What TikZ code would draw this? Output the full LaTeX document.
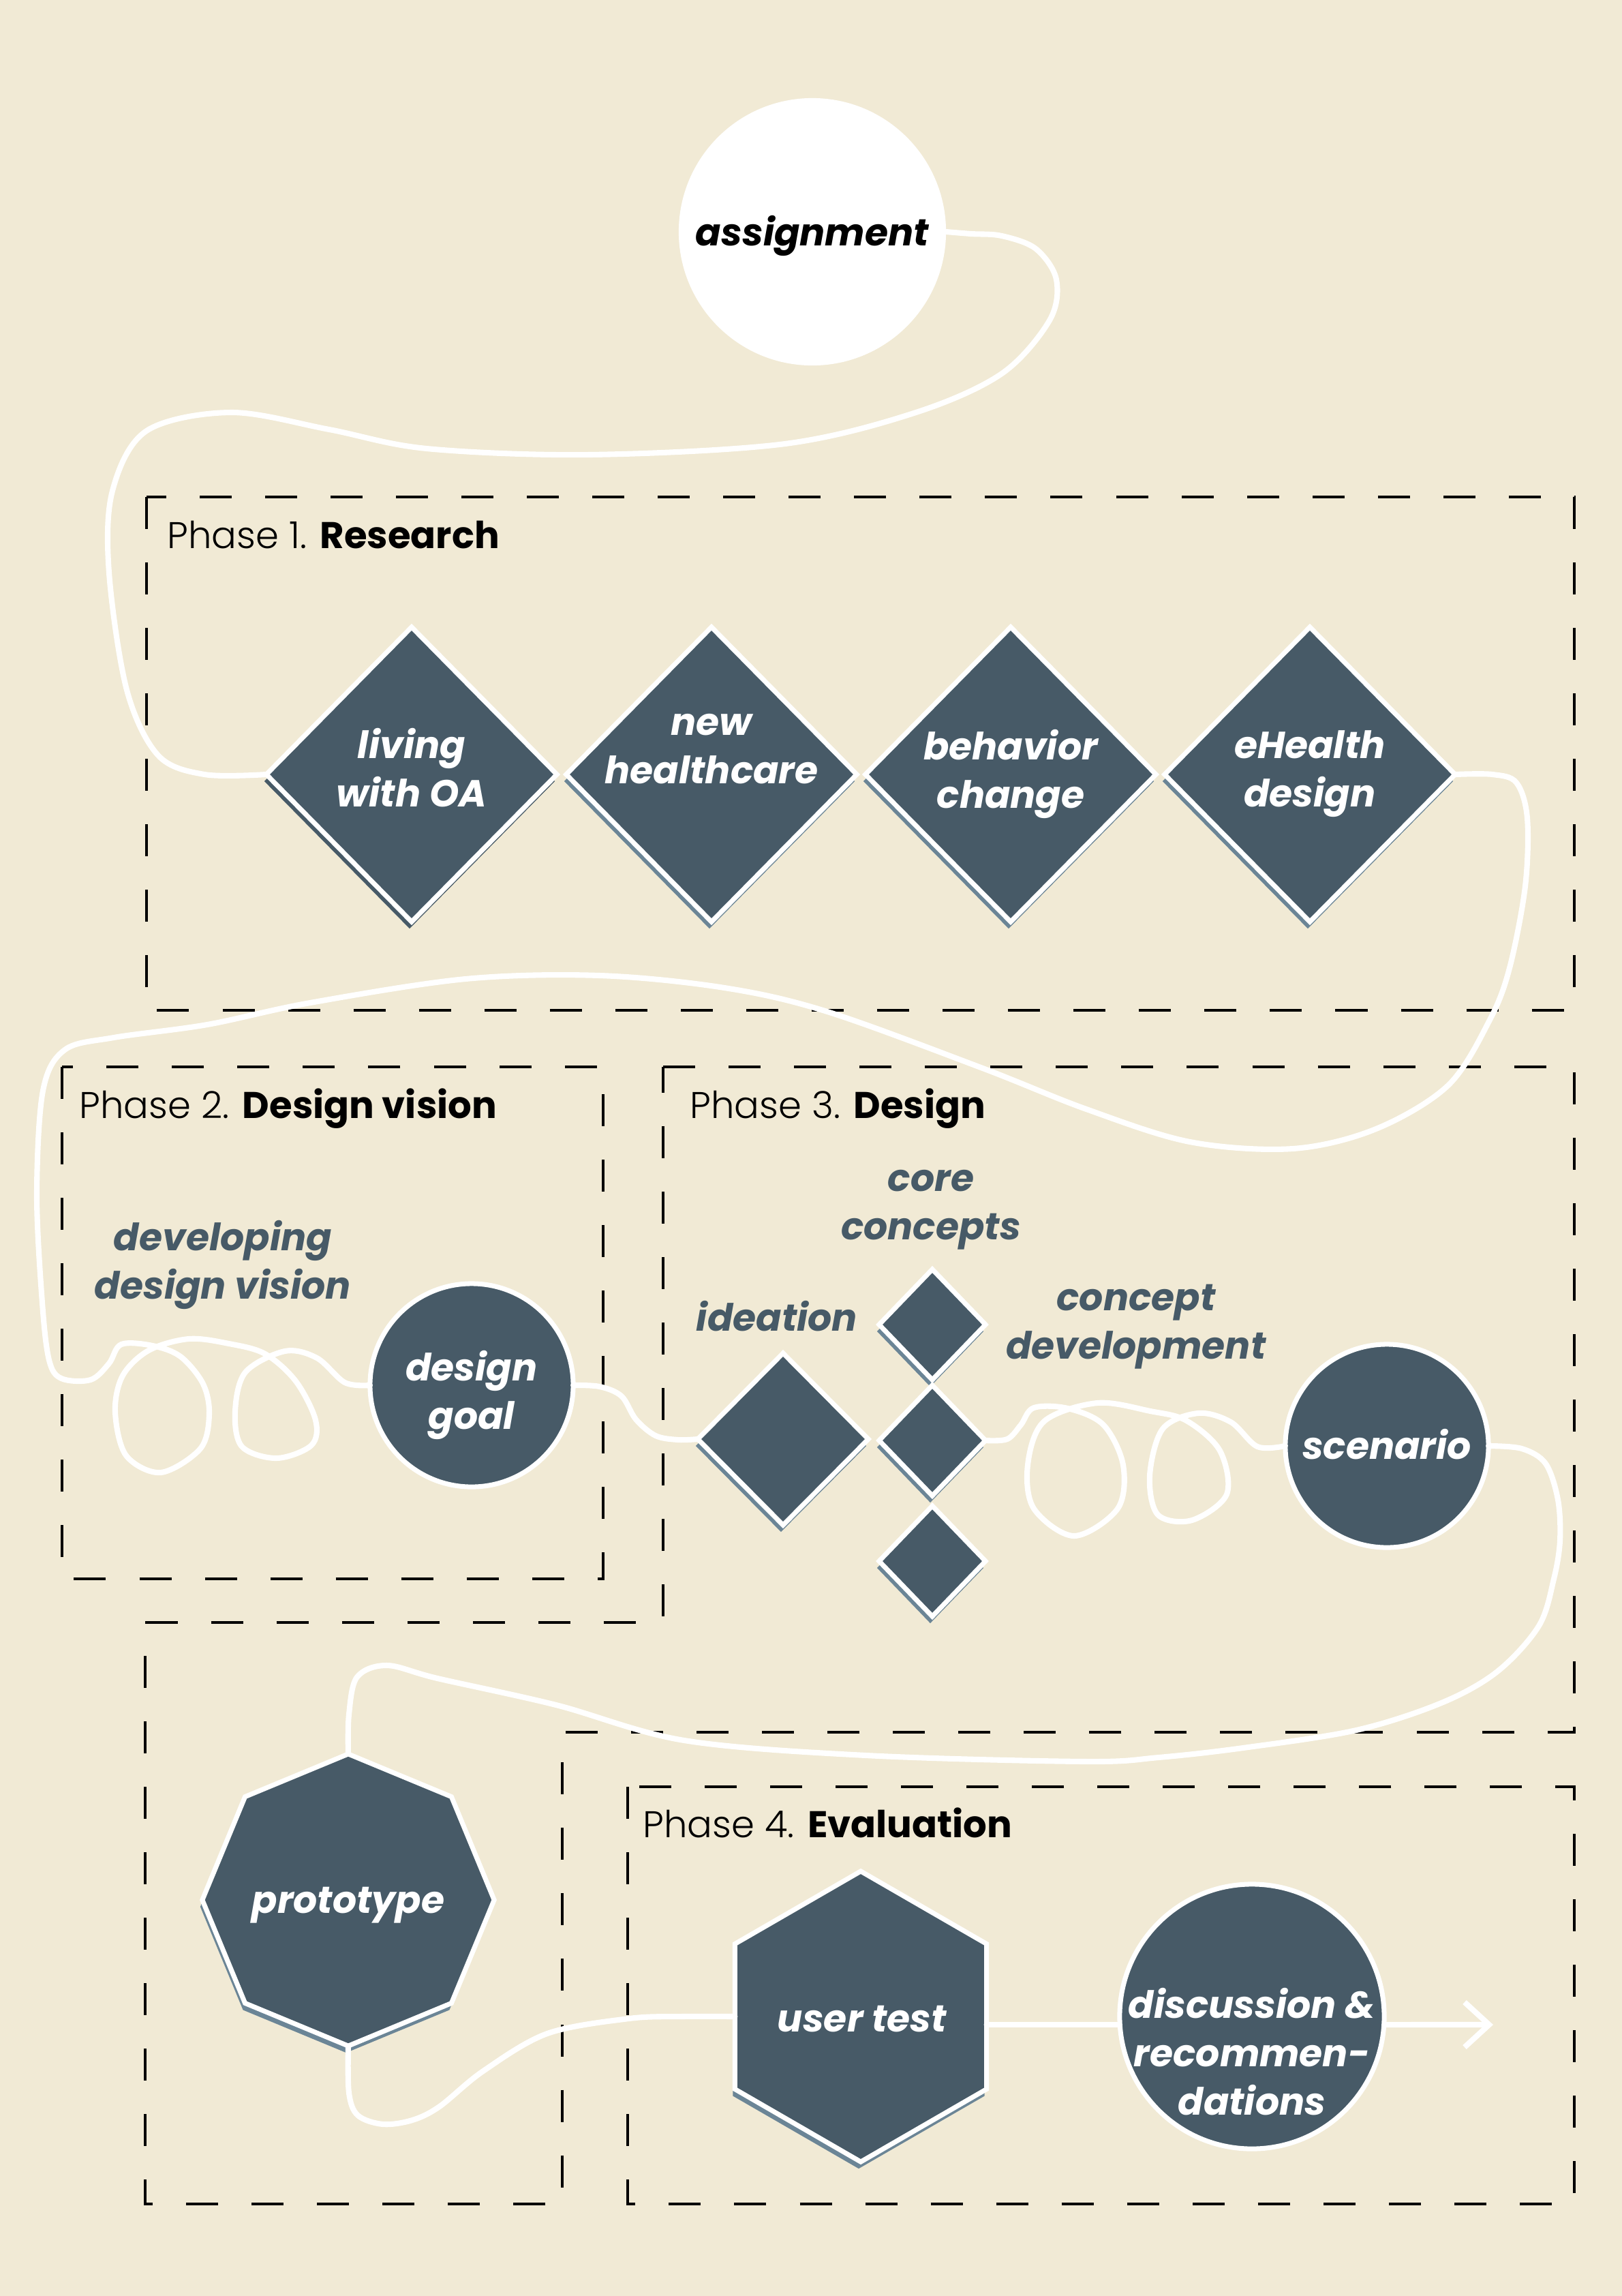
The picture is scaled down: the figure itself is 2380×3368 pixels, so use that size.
\documentclass[tikz,border=0pt]{standalone}
\usepackage{fontspec}
\setmainfont{Poppins}
\IfFontExistsTF{Poppins Light}{\newfontfamily\plight{Poppins Light}}{\newfontfamily\plight{Poppins}}
\usetikzlibrary{shapes.geometric,shadows,arrows.meta}
\definecolor{bg}{HTML}{F1EAD5}
\definecolor{slate}{HTML}{475A67}
\definecolor{shade}{HTML}{6B8596}
\begin{document}
\begin{tikzpicture}[x=0.01cm,y=-0.01cm,
  phase/.style={draw=black,line width=1.15pt,dash pattern=on 0.47cm off 0.49cm},
  conn/.style={draw=white,line width=2.3pt,line cap=round,line join=round},
  shp/.style={fill=slate,draw=white,line width=2pt,inner sep=0pt,outer sep=0pt},
  shd/.style={drop shadow={shadow xshift=-0.03cm,shadow yshift=-0.10cm,fill=#1,opacity=1}},
  shd/.default=shade,
  wtxt/.style={text=white,font=\fontsize{15.7}{20.2}\selectfont\bfseries\itshape,align=center,inner sep=0pt},
  dtxt/.style={text=slate,font=\fontsize{15.7}{20.2}\selectfont\bfseries\itshape,align=center,inner sep=0pt},
  plbl/.style={anchor=base west,inner sep=0pt,font=\fontsize{15.5}{19}\selectfont}
]
\fill[bg] (0,0) rectangle (2380,3368);
\useasboundingbox (0,0) rectangle (2380,3368);

% phase frames
\draw[phase] (215,729) rectangle (2310,1482);
\draw[phase] (91,1565) rectangle (885,2316);
\draw[phase] (973,1565) -- (2310,1565) -- (2310,2541) -- (825,2541) -- (825,3233) -- (213,3233) -- (213,2380) -- (973,2380) -- cycle;
\draw[phase] (921,2621) rectangle (2310,3233);

\node[plbl] (p1) at (245,804) {{\plight Phase 1.} \textbf{Research}};
\node[plbl] (p2) at (116,1640) {{\plight Phase 2.} \textbf{Design vision}};
\node[plbl] (p3) at (1012,1640) {{\plight Phase 3.} \textbf{Design}};
\node[plbl] (p4) at (943,2695) {{\plight Phase 4.} \textbf{Evaluation}};

% shapes
\node[shp,circle,fill=white,draw=none,minimum size=3.92cm] (asg) at (1192,340) {};
\node[wtxt,text=black] (asgt) at (1192,346) {assignment};

\node[shp,diamond,minimum width=4.26cm,minimum height=4.32cm,shd=slate] (d1) at (604,1136) {};
\node[shp,diamond,minimum width=4.26cm,minimum height=4.32cm,shd] (d2) at (1044,1136) {};
\node[shp,diamond,minimum width=4.26cm,minimum height=4.32cm,shd] (d3) at (1483,1136) {};
\node[shp,diamond,minimum width=4.26cm,minimum height=4.32cm,shd] (d4) at (1922,1136) {};
\node[wtxt] (d1t) at (604,1126) {living\\with OA};
\node[wtxt] (d2t) at (1044,1099) {new\\healthcare};
\node[wtxt] (d3t) at (1483,1135) {behavior\\change};
\node[wtxt] (d4t) at (1922,1135) {eHealth\\design};

\node[dtxt] (dv) at (327,1855) {developing\\design vision};
\node[shp,circle,minimum size=2.98cm] (dg) at (692,2032) {};
\node[wtxt] (dgt) at (692,2046) {design\\goal};

\node[dtxt] (cc) at (1366,1775) {core\\concepts};
\node[dtxt] (id) at (1140,1931) {ideation};
\node[dtxt] (cd) at (1667,1946) {concept\\development};
\node[shp,diamond,minimum width=2.50cm,minimum height=2.52cm,shd] (idea) at (1149,2111) {};
\node[shp,diamond,minimum width=1.56cm,minimum height=1.62cm,shd] (s1) at (1368,1943) {};
\node[shp,diamond,minimum width=1.56cm,minimum height=1.62cm,shd] (s2) at (1368,2113) {};
\node[shp,diamond,minimum width=1.56cm,minimum height=1.62cm,shd] (s3) at (1368,2290) {};
\node[shp,circle,minimum size=2.98cm] (sc) at (2035,2121) {};
\node[wtxt] (sct) at (2035,2119) {scenario};

\node[shp,regular polygon,regular polygon sides=8,shape border rotate=22.5,minimum size=4.28cm,shd] (proto) at (511,2787) {};
\node[wtxt] (protot) at (511,2795) {prototype};
\node[shp,regular polygon,regular polygon sides=6,shape border rotate=30,minimum size=4.26cm,shd] (ut) at (1263,2958) {};
\node[wtxt] (utt) at (1265,2962) {user test};
\node[shp,circle,minimum size=3.88cm] (dr) at (1837,2958) {};
\node[wtxt] (drt) at (1837,3010) {discussion \&\\recommen-\\dations};
\coordinate (aend) at (2191,2970);

% connectors
\draw[conn] plot[smooth,tension=0.55] coordinates {(asg.east) (1425,343) (1470,346) (1520,365) (1550,410) (1540,470) (1470,548) (1344,605) (1152,651) (865,667) (626,658) (483,630) (339,605) (215,632) (165,720) (160,840) (186,1012) (232,1108) (300,1136) (d1.west)};

\draw[conn] plot[smooth,tension=0.55] coordinates {(d4.east) (2190,1136) (2225,1148) (2241,1200) (2238,1300) (2215,1420) (2186,1496) (2125,1592) (2019,1656) (1897,1685) (1746,1675) (1594,1627) (1442,1567) (1214,1484) (1063,1449) (880,1431) (683,1436) (455,1471) (304,1503) (167,1522) (95,1540) (63,1600) (54,1752) (62,1911) (72,1995) (90,2022) (133,2024) (160,2000) (178,1972) (224,1974) (265,1990) (298,2030) (307,2075) (294,2125) (236,2160) (185,2135) (169,2071) (180,2018) (218,1981) (277,1964) (336,1971) (389,1986) (434,2026) (463,2083) (457,2120) (406,2139) (355,2122) (345,2071) (360,2013) (418,1982) (465,1992) (506,2028) (dg.west)};

\draw[conn] plot[smooth,tension=0.55] coordinates {(dg.east) (880,2034) (912,2048) (933,2082) (962,2106) (995,2112) (idea.west)};

\draw[conn] plot[smooth,tension=0.55] coordinates {(s2.east) (1478,2111) (1498,2090) (1517,2065) (1567,2066) (1619,2090) (1648,2149) (1640,2213) (1576,2253) (1517,2213) (1508,2149) (1532,2085) (1610,2058) (1688,2070) (1741,2084) (1790,2128) (1800,2192) (1749,2230) (1699,2222) (1687,2165) (1706,2096) (1758,2073) (1806,2086) (1845,2122) (sc.west)};

\draw[conn] plot[smooth,tension=0.55] coordinates {(sc.east) (2233,2125) (2268,2147) (2286,2200) (2289,2260) (2280,2316) (2258,2385) (2197,2452) (2115,2498) (1990,2538) (1824,2564) (1700,2578) (1593,2584) (1271,2575) (1004,2553) (816,2501) (642,2462) (568,2443) (524,2460) (512,2515) (proto.north)};

\draw[conn] plot[smooth,tension=0.55] coordinates {(proto.south) (512,3070) (525,3103) (562,3116) (605,3110) (645,3090) (709,3038) (803,2983) (923,2961) (1000,2958) (ut.180)};

\draw[conn] ([yshift=-0.12cm]ut.0) -- ([yshift=-0.12cm]dr.180);
\draw[conn,-{Straight Barb[length=0.36cm,width=0.66cm]}] ([yshift=-0.12cm]dr.0) -- (aend);
\end{tikzpicture}
\end{document}
